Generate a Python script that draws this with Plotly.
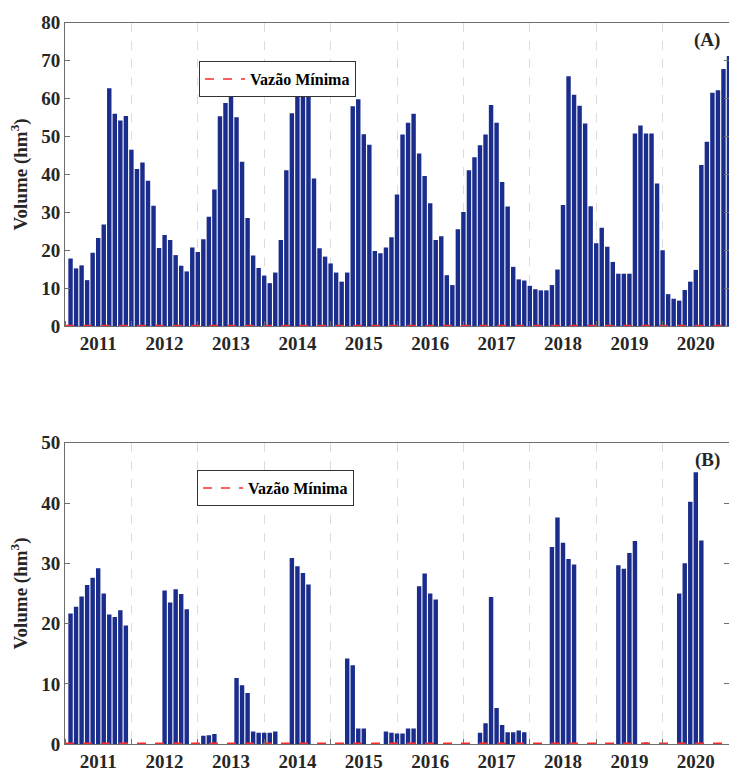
import plotly.graph_objects as go

years = [2011, 2012, 2013, 2014, 2015, 2016, 2017, 2018, 2019, 2020]

volume_A = [17.8, 15.2, 16.0, 12.1, 19.3, 23.2, 26.8, 62.7, 56.0, 54.2, 55.4, 46.5,
            41.4, 43.1, 38.3, 31.7, 20.6, 24.0, 22.7, 18.7, 15.9, 14.4, 20.7, 19.5,
            22.9, 28.8, 36.0, 55.3, 58.8, 64.0, 55.1, 43.3, 28.5, 18.6, 15.3, 13.3,
            11.3, 14.1, 22.7, 41.1, 56.1, 64.0, 66.0, 63.0, 38.9, 20.5, 18.3, 16.5,
            14.1, 11.7, 14.1, 58.0, 59.8, 50.6, 47.8, 19.8, 19.2, 20.7, 23.4, 34.7,
            50.5, 53.6, 56.0, 45.5, 39.6, 32.4, 22.7, 23.7, 13.4, 10.8, 25.5, 30.1,
            41.1, 44.5, 47.7, 50.5, 58.3, 53.6, 38.0, 31.5, 15.6, 12.3, 12.0, 10.6,
            9.7, 9.4, 9.4, 10.8, 14.9, 31.9, 65.9, 61.0, 58.1, 53.4, 31.6, 21.8,
            25.9, 20.9, 16.9, 13.8, 13.8, 13.8, 50.8, 52.9, 50.8, 50.8, 37.6, 20.0,
            8.4, 7.2, 6.7, 9.5, 11.7, 14.8, 42.5, 48.6, 61.5, 62.2, 67.8, 71.2]

volume_B = [21.7, 22.8, 24.5, 26.4, 27.6, 29.2, 25.0, 21.5, 21.1, 22.2, 19.7, 0,
            0, 0, 0, 0, 0, 25.5, 23.5, 25.7, 24.9, 22.4, 0, 0,
            1.4, 1.5, 1.7, 0, 0, 0, 11.0, 9.8, 8.5, 2.1, 1.9, 1.9,
            1.9, 2.1, 0, 0, 30.9, 29.5, 28.4, 26.5, 0, 0, 0, 0,
            0, 0, 14.2, 13.1, 2.6, 2.6, 0, 0, 0, 2.1, 1.9, 1.8,
            1.8, 2.6, 2.6, 26.2, 28.3, 25.0, 24.0, 0, 0, 0, 0, 0,
            0, 0, 1.9, 3.5, 24.4, 6.0, 3.2, 2.0, 2.0, 2.3, 2.0, 0,
            0, 0, 0, 32.7, 37.6, 33.4, 30.7, 29.8, 0, 0, 0, 0,
            0, 0, 0, 29.7, 29.1, 31.7, 33.7, 0, 0.3, 0, 0, 0,
            0, 0, 25.0, 30.0, 40.2, 45.1, 33.8, 0, 0, 0, 0, 0]

vazao_minima = 0.15
legend_label = "<b>Vazão Mínima</b>"

n_months = len(volume_A)
month_pos = list(range(1, n_months + 1))          # month-end positions
year_mid = [12 * i + 6 for i in range(len(years))]
year_text = ["<b>%d</b>" % y for y in years]

FONT = "Liberation Serif, Times New Roman, serif"
TXT = "#262626"
BAR = "#1b2d8c"
FRAME = "#6e6e6e"

W, H, ML = 729, 776, 65
PW = W - ML

fig = go.Figure()

for vals, ax, leg in [(volume_A, "", "legend"), (volume_B, "2", "legend2")]:
    fig.add_trace(go.Bar(x=month_pos, y=vals, marker=dict(color=BAR, line=dict(width=0)),
                         xaxis="x" + ax, yaxis="y" + ax, showlegend=False))
    fig.add_trace(go.Scatter(x=[0, n_months], y=[vazao_minima, vazao_minima], mode="lines",
                             line=dict(color="#ff2a2a", width=1.5, dash="dash"),
                             name=legend_label, xaxis="x" + ax, yaxis="y" + ax,
                             legend=leg, showlegend=True))

xcommon = dict(range=[0, n_months], tickmode="array", tickvals=year_mid, ticktext=year_text,
               ticks="", showgrid=False, zeroline=False, showline=True, linecolor=FRAME,
               linewidth=1, mirror=True,
               tickfont=dict(family=FONT, size=19, color=TXT),
               minor=dict(tick0=0, dtick=12, ticks="inside", ticklen=5, tickcolor=FRAME,
                          showgrid=True, griddash="dash", gridcolor="#dcdcdc", gridwidth=1))
ycommon = dict(showgrid=False, zeroline=False, showline=True, linecolor=FRAME, linewidth=1,
               mirror="ticks", ticks="inside", ticklen=5, tickcolor=FRAME, dtick=10,
               tickprefix="<b>", ticksuffix="</b>",
               tickfont=dict(family=FONT, size=19, color=TXT),
               title=dict(text="<b>Volume (hm<sup>3</sup>)</b>", standoff=8,
                          font=dict(family=FONT, size=19, color=TXT)))

legend_common = dict(xref="paper", yref="paper", xanchor="left", yanchor="top",
                     bgcolor="white", bordercolor="#333333", borderwidth=1,
                     itemwidth=40, font=dict(family=FONT, size=16, color="black"))

fig.update_layout(
    width=W, height=H,
    margin=dict(l=ML, r=0, t=0, b=0, autoexpand=False),
    paper_bgcolor="white", plot_bgcolor="white",
    bargap=0.2,
    xaxis=dict(domain=[0, 1], anchor="y", **xcommon),
    yaxis=dict(domain=[0.5799, 0.9707], range=[0, 80], anchor="x", **ycommon),
    xaxis2=dict(domain=[0, 1], anchor="y2", **xcommon),
    yaxis2=dict(domain=[0.0409, 0.4295], range=[0, 50], anchor="x2", **ycommon),
    legend=dict(x=(199 - ML) / PW, y=1 - 61 / H, **legend_common),
    legend2=dict(x=(197 - ML) / PW, y=1 - 470 / H, **legend_common),
    annotations=[
        dict(text="<b>(A)</b>", x=0.99, y=0.985, xref="x domain", yref="y domain", xanchor="right",
             yanchor="top", showarrow=False, font=dict(family=FONT, size=19, color=TXT)),
        dict(text="<b>(B)</b>", x=0.99, y=0.985, xref="x2 domain", yref="y2 domain", xanchor="right",
             yanchor="top", showarrow=False, font=dict(family=FONT, size=19, color=TXT)),
    ],
)

fig.write_html("out.html", config={"displayModeBar": False},
               post_script="document.body.style.margin='0px';document.body.style.overflow='hidden';")
